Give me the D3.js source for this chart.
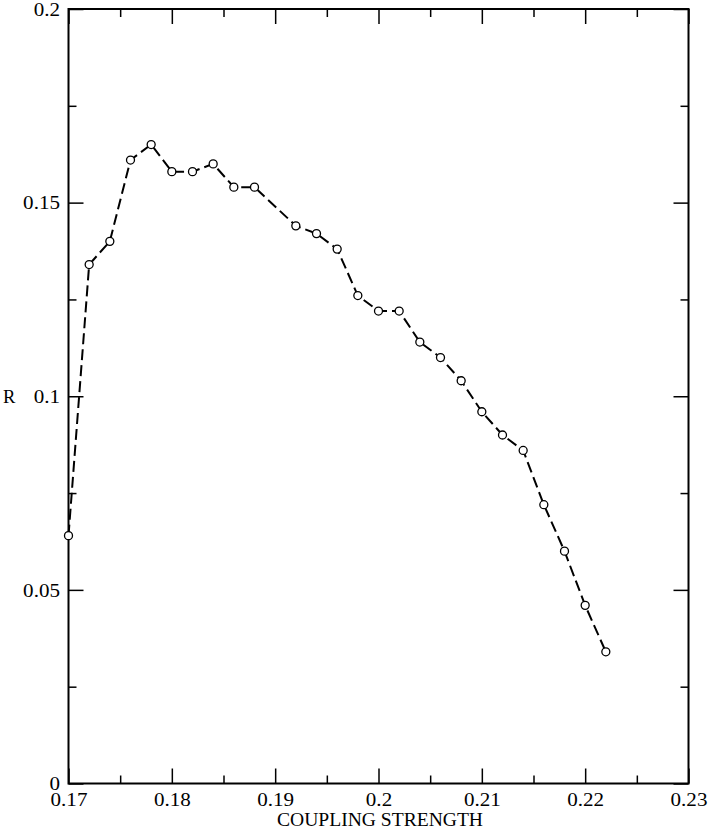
<!DOCTYPE html>
<html>
<head>
<meta charset="utf-8">
<script src="https://cdn.jsdelivr.net/npm/d3@7"></script>
<style>
html, body { margin: 0; padding: 0; background: #fff; }
svg { display: block; }
svg text { font-family: "Liberation Serif", "Times New Roman", Times, serif !important; fill: #000; }
</style>
</head>
<body>
<svg id="chart" width="709" height="830"></svg>
<script>
const couplingStrength = [0.170, 0.172, 0.174, 0.176, 0.178, 0.180, 0.182, 0.184, 0.186, 0.188,
  0.192, 0.194, 0.196, 0.198, 0.200, 0.202, 0.204, 0.206, 0.208, 0.210,
  0.212, 0.214, 0.216, 0.218, 0.220, 0.222];
const rValues = [0.064, 0.134, 0.140, 0.161, 0.165, 0.158, 0.158, 0.160, 0.154, 0.154,
  0.144, 0.142, 0.138, 0.126, 0.122, 0.122, 0.114, 0.110, 0.104, 0.096,
  0.090, 0.086, 0.072, 0.060, 0.046, 0.034];
const xTicks = [0.17, 0.18, 0.19, 0.20, 0.21, 0.22, 0.23];
const xTickLabels = ["0.17", "0.18", "0.19", "0.2", "0.21", "0.22", "0.23"];
const xMinorTicks = [0.175, 0.185, 0.195, 0.205, 0.215, 0.225];
const yTicks = [0, 0.05, 0.10, 0.15, 0.20];
const yTickLabels = ["0", "0.05", "0.1", "0.15", "0.2"];
const yMinorTicks = [0.025, 0.075, 0.125, 0.175];
const xLabel = "COUPLING STRENGTH";
const yLabel = "R";

const data = couplingStrength.map((x, i) => ({ x, y: rValues[i] }));

const svg = d3.select("#chart");
const mLeft = 68.5, mRight = 688.5, mTop = 9, mBottom = 783.5;
const x = d3.scaleLinear().domain([0.17, 0.23]).range([mLeft, mRight]);
const y = d3.scaleLinear().domain([0, 0.2]).range([mBottom, mTop]);

const majorLen = 15, minorLen = 8;
const fmtX = (d, i) => xTickLabels[i];
const fmtY = (d, i) => yTickLabels[i];
const serif = "'Liberation Serif', 'Times New Roman', Times, serif";
const stretch = 1.14;

function styleAxis(g) {
  g.attr("font-family", serif);
  g.select(".domain").remove();
  g.selectAll(".tick line").attr("stroke", "#000").attr("stroke-width", 1.5);
}

// bottom axis (ticks point inward)
svg.append("g").attr("transform", `translate(0,${mBottom})`)
  .call(d3.axisBottom(x).tickValues(xTicks).tickFormat(fmtX).tickSizeInner(-majorLen).tickSizeOuter(0).tickPadding(0))
  .call(styleAxis)
  .call(g => g.selectAll(".tick text").attr("dy", null).attr("y", 23)
    .attr("transform", `scale(${stretch},1)`)
    .style("font-size", "18.5px").style("font-family", serif));
svg.append("g").attr("transform", `translate(0,${mBottom})`)
  .call(d3.axisBottom(x).tickValues(xMinorTicks).tickFormat("").tickSizeInner(-minorLen).tickSizeOuter(0))
  .call(styleAxis);
// top axis
svg.append("g").attr("transform", `translate(0,${mTop})`)
  .call(d3.axisTop(x).tickValues(xTicks).tickFormat("").tickSizeInner(-majorLen).tickSizeOuter(0))
  .call(styleAxis);
svg.append("g").attr("transform", `translate(0,${mTop})`)
  .call(d3.axisTop(x).tickValues(xMinorTicks).tickFormat("").tickSizeInner(-minorLen).tickSizeOuter(0))
  .call(styleAxis);
// left axis
svg.append("g").attr("transform", `translate(${mLeft},0)`)
  .call(d3.axisLeft(y).tickValues(yTicks).tickFormat(fmtY).tickSizeInner(-majorLen).tickSizeOuter(0).tickPadding(0))
  .call(styleAxis)
  .call(g => g.selectAll(".tick text").attr("x", -8.5 / stretch).attr("dy", "0.34em")
    .attr("transform", `scale(${stretch},1)`)
    .style("font-size", "18.5px").style("font-family", serif));
svg.append("g").attr("transform", `translate(${mLeft},0)`)
  .call(d3.axisLeft(y).tickValues(yMinorTicks).tickFormat("").tickSizeInner(-minorLen).tickSizeOuter(0))
  .call(styleAxis);
// right axis
svg.append("g").attr("transform", `translate(${mRight},0)`)
  .call(d3.axisRight(y).tickValues(yTicks).tickFormat("").tickSizeInner(-majorLen).tickSizeOuter(0))
  .call(styleAxis);
svg.append("g").attr("transform", `translate(${mRight},0)`)
  .call(d3.axisRight(y).tickValues(yMinorTicks).tickFormat("").tickSizeInner(-minorLen).tickSizeOuter(0))
  .call(styleAxis);

// frame
svg.append("rect").attr("x", mLeft).attr("y", mTop).attr("width", mRight - mLeft).attr("height", mBottom - mTop)
  .attr("fill", "none").attr("stroke", "#000").attr("stroke-width", 2);

// line
const line = d3.line().x(d => x(d.x)).y(d => y(d.y));
svg.append("path").datum(data).attr("d", line)
  .attr("fill", "none").attr("stroke", "#000").attr("stroke-width", 2)
  .attr("stroke-dasharray", "11,5");

// markers
svg.append("g").selectAll("circle").data(data).join("circle")
  .attr("cx", d => x(d.x)).attr("cy", d => y(d.y)).attr("r", 4)
  .attr("fill", "#fff").attr("stroke", "#000").attr("stroke-width", 1.3);

// labels
svg.append("text").attr("x", 380).attr("y", 826).attr("text-anchor", "middle")
  .attr("textLength", 206).attr("lengthAdjust", "spacingAndGlyphs")
  .style("font-size", "19px").style("font-family", serif).text(xLabel);
svg.append("text").attr("x", 3).attr("y", 403)
  .style("font-size", "18.5px").style("font-family", serif).text(yLabel);
</script>
</body>
</html>
